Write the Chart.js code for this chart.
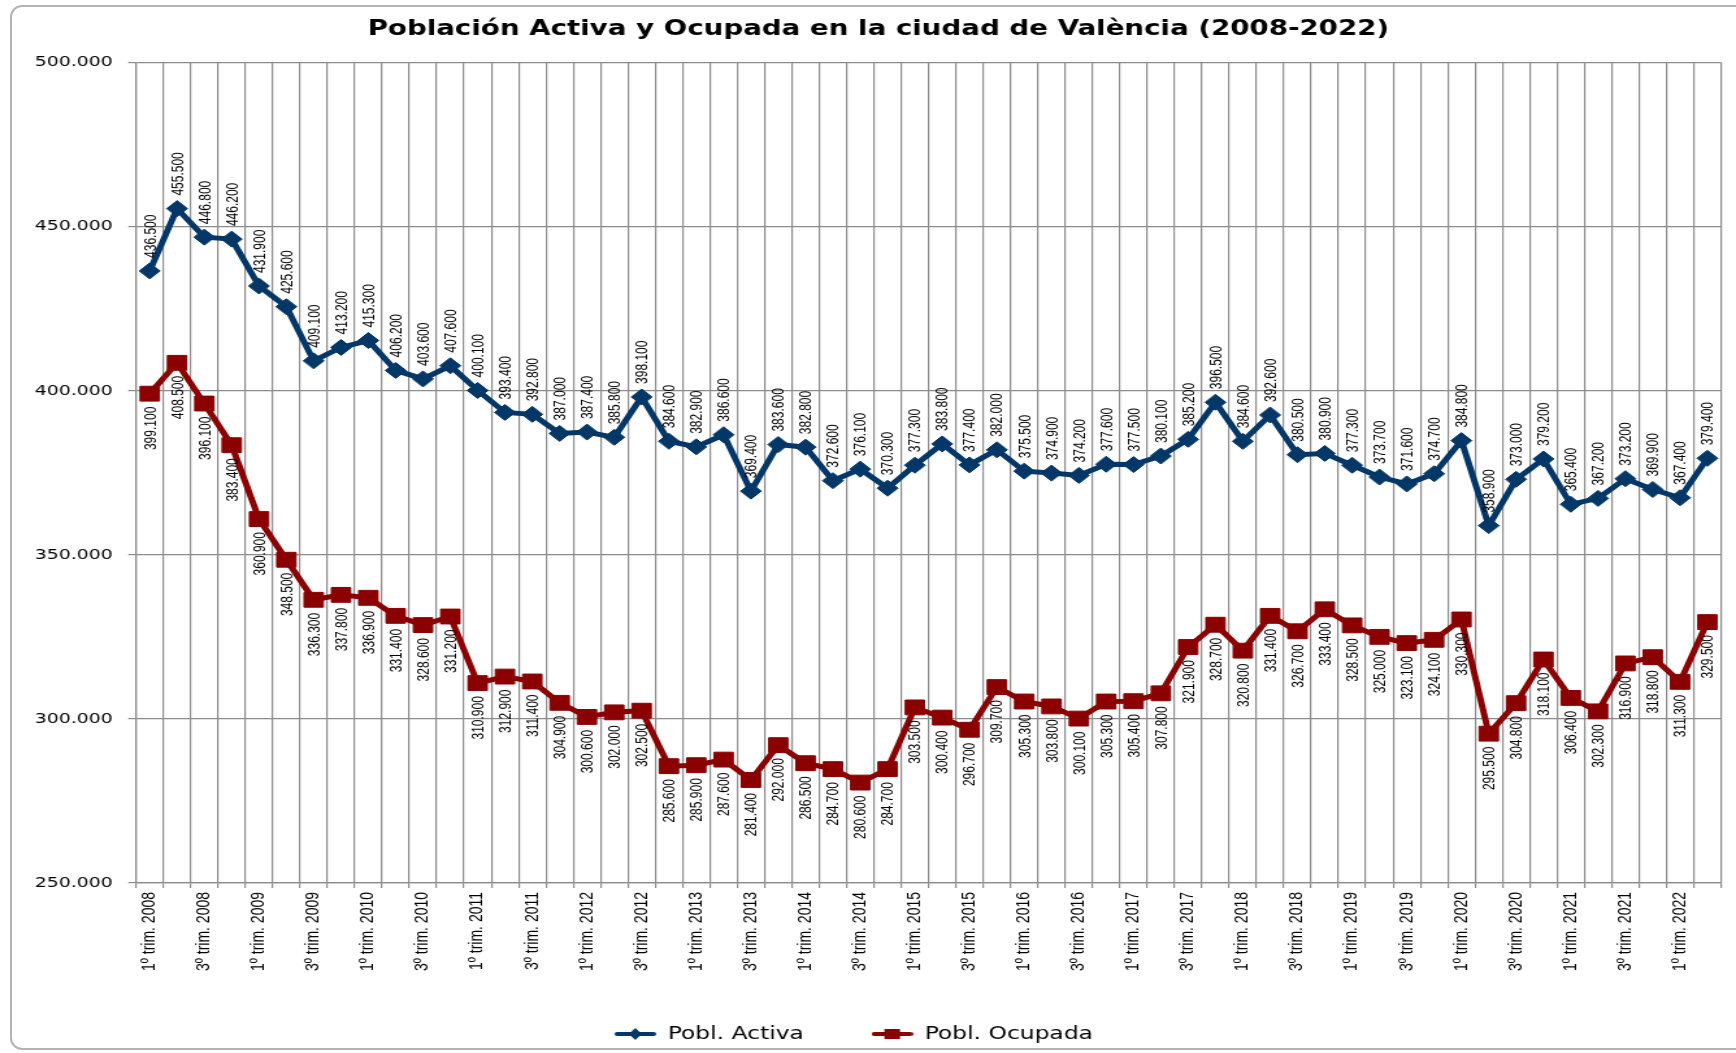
<!DOCTYPE html>
<html>
<head>
<meta charset="utf-8">
<script src="https://cdn.jsdelivr.net/npm/chart.js@4.4.0/dist/chart.umd.min.js"></script>
<style>
  html, body { margin: 0; padding: 0; background: #fff; }
  #wrap { position: relative; width: 1736px; height: 1053px; overflow: hidden; }
  #frame { position: absolute; left: 10px; top: 5px; width: 1760px; height: 1045px;
           border: 2px solid #b4b4b4; border-radius: 12px; box-sizing: border-box; }
  /* el gráfico original está estirado en horizontal */
  canvas { position: absolute; left: 0; top: 0; transform: scaleX(1.2994); transform-origin: 0 0; }
</style>
</head>
<body>
<div id="wrap">
  <div id="frame"></div>
  <canvas id="myChart" width="1336" height="1053"></canvas>
</div>
<script>
/* ---------------- datos ---------------- */
const trimestres = [
  '1º trim. 2008','2º trim. 2008','3º trim. 2008','4º trim. 2008',
  '1º trim. 2009','2º trim. 2009','3º trim. 2009','4º trim. 2009',
  '1º trim. 2010','2º trim. 2010','3º trim. 2010','4º trim. 2010',
  '1º trim. 2011','2º trim. 2011','3º trim. 2011','4º trim. 2011',
  '1º trim. 2012','2º trim. 2012','3º trim. 2012','4º trim. 2012',
  '1º trim. 2013','2º trim. 2013','3º trim. 2013','4º trim. 2013',
  '1º trim. 2014','2º trim. 2014','3º trim. 2014','4º trim. 2014',
  '1º trim. 2015','2º trim. 2015','3º trim. 2015','4º trim. 2015',
  '1º trim. 2016','2º trim. 2016','3º trim. 2016','4º trim. 2016',
  '1º trim. 2017','2º trim. 2017','3º trim. 2017','4º trim. 2017',
  '1º trim. 2018','2º trim. 2018','3º trim. 2018','4º trim. 2018',
  '1º trim. 2019','2º trim. 2019','3º trim. 2019','4º trim. 2019',
  '1º trim. 2020','2º trim. 2020','3º trim. 2020','4º trim. 2020',
  '1º trim. 2021','2º trim. 2021','3º trim. 2021','4º trim. 2021',
  '1º trim. 2022','2º trim. 2022'
];

const poblActiva = [
  436500, 455500, 446800, 446200, 431900, 425600, 409100, 413200, 415300, 406200,
  403600, 407600, 400100, 393400, 392800, 387000, 387400, 385800, 398100, 384600,
  382900, 386600, 369400, 383600, 382800, 372600, 376100, 370300, 377300, 383800,
  377400, 382000, 375500, 374900, 374200, 377600, 377500, 380100, 385200, 396500,
  384600, 392600, 380500, 380900, 377300, 373700, 371600, 374700, 384800, 358900,
  373000, 379200, 365400, 367200, 373200, 369900, 367400, 379400
];

const poblOcupada = [
  399100, 408500, 396100, 383400, 360900, 348500, 336300, 337800, 336900, 331400,
  328600, 331200, 310900, 312900, 311400, 304900, 300600, 302000, 302500, 285600,
  285900, 287600, 281400, 292000, 286500, 284700, 280600, 284700, 303500, 300400,
  296700, 309700, 305300, 303800, 300100, 305300, 305400, 307800, 321900, 328700,
  320800, 331400, 326700, 333400, 328500, 325000, 323100, 324100, 330300, 295500,
  304800, 318100, 306400, 302300, 316900, 318800, 311300, 329500
];

const ejeY = [250000, 300000, 350000, 400000, 450000, 500000];

/* ---------------- estilos ---------------- */
const AZUL = '#033768';
const ROJO = '#8b0000';
const GRIS = '#8c8c8c';

function miles(v) {
  const m = Math.floor(v / 1000);
  return m + '.' + String(v % 1000).padStart(3, '0');
}

// icono de leyenda: línea con marcador
function iconoLeyenda(color, forma) {
  const c = document.createElement('canvas');
  c.width = 32; c.height = 16;
  const g = c.getContext('2d');
  g.strokeStyle = color;
  g.lineWidth = 4;
  g.lineCap = 'round';
  g.beginPath(); g.moveTo(2, 8); g.lineTo(30, 8); g.stroke();
  g.fillStyle = color;
  g.beginPath();
  if (forma === 'rombo') {
    g.moveTo(16, 2); g.lineTo(21, 8); g.lineTo(16, 14); g.lineTo(11, 8);
  } else {
    g.rect(10, 3, 12, 10);
  }
  g.closePath(); g.fill();
  return c;
}

// etiquetas de valor giradas
const etiquetasValor = {
  id: 'etiquetasValor',
  afterDatasetsDraw(chart) {
    const ctx = chart.ctx;
    ctx.save();
    ctx.font = '12px "Liberation Sans", Arial, sans-serif';
    ctx.fillStyle = '#000';
    ctx.textBaseline = 'middle';
    chart.data.datasets.forEach((ds, i) => {
      const meta = chart.getDatasetMeta(i);
      const arriba = i === 0;
      meta.data.forEach((pt, j) => {
        ctx.save();
        ctx.translate(pt.x + 1, pt.y + (arriba ? -13 : 13));
        ctx.rotate(-Math.PI / 2);
        ctx.textAlign = arriba ? 'left' : 'right';
        ctx.fillText(miles(ds.data[j]), 0, 0);
        ctx.restore();
      });
    });
    ctx.restore();
  }
};

// la leyenda del original está algo desplazada a la izquierda
const moverLeyenda = {
  id: 'moverLeyenda',
  afterLayout(chart) {
    const lg = chart.legend;
    if (lg) { lg.left -= 19; lg.right -= 19; }
  }
};

const data = {
  labels: trimestres,
  datasets: [{
    label: 'Pobl. Activa',
    data: poblActiva,
    borderColor: AZUL,
    backgroundColor: AZUL,
    borderWidth: 5,
    pointStyle: 'rectRot',
    pointRadius: 8,
    pointBorderWidth: 1,
    tension: 0
  }, {
    label: 'Pobl. Ocupada',
    data: poblOcupada,
    borderColor: ROJO,
    backgroundColor: ROJO,
    borderWidth: 5,
    pointStyle: 'rect',
    pointRadius: 10.5,
    pointBorderWidth: 1,
    tension: 0
  }]
};

const config = {
  type: 'line',
  data: data,
  options: {
    responsive: false,
    animation: false,
    events: [],
    layout: { padding: { left: 20, right: 4, top: 0, bottom: 0 } },
    plugins: {
      title: {
        display: true,
        text: 'Población Activa y Ocupada en la ciudad de València (2008-2022)',
        color: '#000',
        font: { family: '"DejaVu Sans", sans-serif', size: 21.3, weight: 'bold' },
        padding: { top: 17, bottom: 20 }
      },
      legend: {
        position: 'bottom',
        labels: {
          color: '#000',
          font: { family: '"DejaVu Sans", sans-serif', size: 18 },
          usePointStyle: true,
          pointStyleWidth: 32,
          padding: 52,
          generateLabels(chart) {
            return chart.data.datasets.map((ds, i) => ({
              text: ds.label,
              fillStyle: ds.borderColor,
              strokeStyle: ds.borderColor,
              lineWidth: 0,
              pointStyle: iconoLeyenda(ds.borderColor, i === 0 ? 'rombo' : 'cuadrado'),
              datasetIndex: i
            }));
          }
        }
      },
      tooltip: { enabled: false }
    },
    scales: {
      x: {
        offset: true,
        grid: { offset: true, color: GRIS, lineWidth: 1.2, tickLength: 5 },
        border: { color: GRIS, width: 1.2 },
        ticks: {
          autoSkip: false,
          maxRotation: 90,
          minRotation: 90,
          padding: 4,
          color: '#000',
          font: { family: '"Liberation Sans", Arial, sans-serif', size: 14 },
          callback(v, i) { return i % 2 === 0 ? trimestres[i] : ''; }
        },
        afterFit(s) {
          const leg = s.chart.legend ? s.chart.legend.height : 40;
          s.height = 1053 - 883 - leg;
        }
      },
      y: {
        min: ejeY[0],
        max: ejeY[ejeY.length - 1],
        grid: { color: GRIS, lineWidth: 1.2, tickLength: 6 },
        border: { color: GRIS, width: 1.2 },
        ticks: {
          stepSize: 50000,
          padding: 12,
          color: '#000',
          font: { family: '"DejaVu Sans", sans-serif', size: 14.5 },
          callback(v) { return ejeY.includes(v) ? miles(v) : ''; }
        },
        afterFit(s) { s.width = 84.7; }
      }
    }
  },
  plugins: [etiquetasValor, moverLeyenda]
};

const myChart = new Chart(document.getElementById('myChart'), config);
</script>
</body>
</html>
